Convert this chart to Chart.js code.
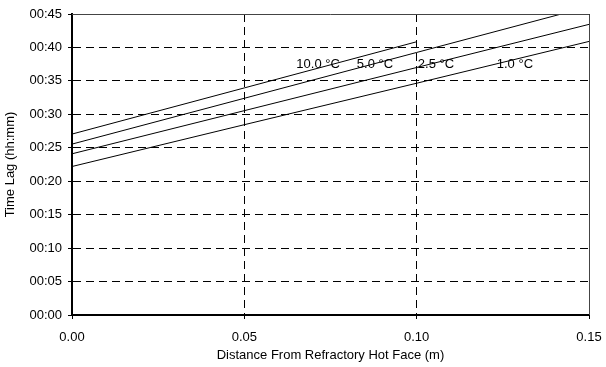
<!DOCTYPE html>
<html>
<head>
<meta charset="utf-8">
<script src="https://cdn.jsdelivr.net/npm/chart.js@4/dist/chart.umd.min.js"></script>
<style>
  html, body { margin: 0; padding: 0; background: #fff; }
  #wrap { width: 606px; height: 367px; }
</style>
</head>
<body>
<div id="wrap"><canvas id="lagChart" width="606" height="367"></canvas></div>
<script>
// distance from hot face (m) and time lag (minutes) for each temperature step
const distances = [0, 0.05, 0.10, 0.15];
const lag10 = [27.05, 33.95, 40.85];
const lag5 = [25.55, 32.4, 39.25, 46.1];
const lag25 = [24.1, 30.55, 37.0, 43.45];
const lag1 = [22.2, 28.45, 34.65, 40.9];

const seriesNames = ["10.0 °C", "5.0 °C", "2.5 °C", "1.0 °C"];
const seriesLags = [lag10, lag5, lag25, lag1];

// where each curve name sits (distance, minutes)
const nameX = [0.0714, 0.0879, 0.1056, 0.1285];
const nameY = [37.4, 37.4, 37.4, 37.4];

const yTickLabels = ["00:00", "00:05", "00:10", "00:15", "00:20", "00:25",
                     "00:30", "00:35", "00:40", "00:45"];

const FONT = "'Liberation Sans', Arial, sans-serif";

const datasets = seriesLags.map((lags, i) => ({
    label: seriesNames[i],
    data: lags.map((v, j) => ({ x: distances[j], y: v })),
    borderColor: "#000",
    borderWidth: 1,
    pointRadius: 0,
    tension: 0,
    fill: false
}));

const curveNames = {
    id: "curveNames",
    afterDatasetsDraw(chart) {
        const { ctx, scales } = chart;
        ctx.save();
        ctx.font = "13px " + FONT;
        ctx.fillStyle = "#000";
        ctx.textAlign = "center";
        ctx.textBaseline = "middle";
        seriesNames.forEach((name, i) => {
            ctx.fillText(name, scales.x.getPixelForValue(nameX[i]), scales.y.getPixelForValue(nameY[i]));
        });
        ctx.restore();
    }
};

const frame = {
    id: "frame",
    afterDatasetsDraw(chart) {
        const { ctx, chartArea: a } = chart;
        ctx.save();
        ctx.strokeStyle = "#444";
        ctx.lineWidth = 1;
        ctx.beginPath();
        ctx.moveTo(a.left, a.top + 0.5);
        ctx.lineTo(a.right + 0.5, a.top + 0.5);
        ctx.lineTo(a.right + 0.5, a.bottom);
        ctx.stroke();
        ctx.restore();
    }
};

new Chart(document.getElementById("lagChart"), {
    type: "line",
    data: { datasets: datasets },
    options: {
        responsive: false,
        animation: false,
        layout: { padding: { top: 14, right: 17, left: 0, bottom: 0 } },
        plugins: {
            legend: { display: false },
            tooltip: { enabled: false }
        },
        scales: {
            x: {
                type: "linear",
                min: 0,
                max: 0.15,
                afterFit(scale) {
                    scale.height = 52;
                    scale.paddingLeft = 0;
                    scale.paddingRight = 0;
                },
                ticks: {
                    stepSize: 0.05,
                    color: "#000",
                    padding: 11,
                    font: { family: FONT, size: 13 },
                    callback: v => v.toFixed(2)
                },
                grid: {
                    color: "#000",
                    lineWidth: 1,
                    tickLength: 4,
                    tickColor: "#000"
                },
                border: { display: true, color: "#000", width: 2, dash: [8, 5] },
                title: {
                    display: true,
                    text: "Distance From Refractory Hot Face (m)",
                    color: "#000",
                    font: { family: FONT, size: 13 },
                    padding: { top: 0, bottom: 4 }
                }
            },
            y: {
                min: 0,
                max: 45,
                afterFit(scale) {
                    scale.width = 72;
                    scale.paddingTop = 0;
                    scale.paddingBottom = 0;
                },
                ticks: {
                    stepSize: 5,
                    color: "#000",
                    padding: 6,
                    font: { family: FONT, size: 13 },
                    callback: (v, i) => yTickLabels[i]
                },
                grid: {
                    color: "#000",
                    lineWidth: 1,
                    tickLength: 4,
                    tickColor: "#000"
                },
                border: { display: true, color: "#000", width: 2, dash: [8, 5] },
                title: {
                    display: true,
                    text: "Time Lag (hh:mm)",
                    color: "#000",
                    font: { family: FONT, size: 13 },
                    padding: { top: 3, bottom: 0 }
                }
            }
        }
    },
    plugins: [curveNames, frame]
});
</script>
</body>
</html>
